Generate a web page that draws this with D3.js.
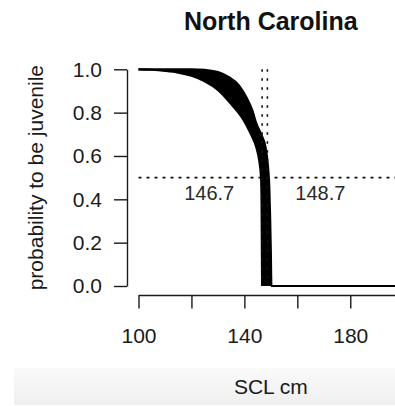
<!DOCTYPE html>
<html lang="en">
  <head>
    <meta charset="utf-8">
    <title>North Carolina</title>
    <script src="https://d3js.org/d3.v7.js"></script>
    <style>
      body { margin: 0; background: #fff; }
      * { font-family: "Liberation Sans", Arial, sans-serif; }
    </style>
  </head>
  <body>
    <script type="text/javascript">
      // chart data
      var title = "North Carolina";
      var xLabel = "SCL cm";
      var yLabel = "probability to be juvenile";

      // right (upper) edge of the band of fitted curves
      var outerScl = [100, 110, 120, 125, 130, 134, 138, 141, 143, 144.5, 146.5, 148, 149, 149.4, 149.7, 150, 150.2, 200];
      var outerP   = [1, 1, 1, 0.997, 0.987, 0.965, 0.925, 0.865, 0.81, 0.75, 0.695, 0.64, 0.54, 0.46, 0.33, 0.15, 0, 0];
      // left (lower) edge of the band
      var innerScl = [100, 105, 110, 115, 120, 125, 130, 135, 139.5, 142.5, 144.5, 145.6, 146.3, 146.5, 146.6, 146.7];
      var innerP   = [1, 0.998, 0.993, 0.985, 0.97, 0.945, 0.905, 0.84, 0.77, 0.7, 0.64, 0.58, 0.5, 0.38, 0.2, 0];

      // size at 50% probability
      var cutoffs = [146.7, 148.7];
      var cutoffLabels = ["146.7", "148.7"];
      var labelOffset = [-20, 20];
      var halfP = 0.5;
      var labelP = 0.43;

      var xTicks = [100, 120, 140, 160, 180, 200];
      var xTickLabels = ["100", "", "140", "", "180", ""];
      var yTicks = [0, 0.2, 0.4, 0.6, 0.8, 1.0];

      var w = 395;
      var h = 406;
      var margin = {top: 69.3, left: 138.5, right: 403.2, bottom: 286};

      var svg = d3.select("body")
          .append("svg")
          .attr("width", w)
          .attr("height", h);

      // light grey strip at the bottom
      var grad = svg.append("defs").append("linearGradient")
          .attr("id", "strip")
          .attr("x1", 0).attr("x2", 0).attr("y1", 0).attr("y2", 1);
      grad.append("stop").attr("offset", "0%").attr("stop-color", "#fafafa");
      grad.append("stop").attr("offset", "100%").attr("stop-color", "#efefef");
      svg.append("rect")
          .attr("x", 14).attr("y", 368)
          .attr("width", w - 14).attr("height", 37)
          .attr("fill", "url(#strip)");

      var xScale = d3.scaleLinear()
          .domain([100, 200])
          .range([margin.left, margin.right]);

      var yScale = d3.scaleLinear()
          .domain([0, 1])
          .range([margin.bottom, margin.top]);

      var line = d3.line()
          .x(d => xScale(d[0]))
          .y(d => yScale(d[1]))
          .curve(d3.curveMonotoneX);

      var outer = outerScl.map((s, i) => [s, outerP[i]]);
      var inner = innerScl.map((s, i) => [s, innerP[i]]);

      // band of curves
      var plot = svg.append("g").attr("id", "plot");

      plot.append("path")
          .attr("d", line(outer.slice(0, -1)) + "L" + line(inner.slice().reverse()).slice(1) + "Z")
          .attr("fill", "#000");

      plot.selectAll("path.edge")
          .data([outer, inner])
          .enter().append("path")
          .attr("class", "edge")
          .attr("d", line)
          .attr("fill", "none")
          .attr("stroke", "#000")
          .attr("stroke-width", 2.2);

      // dotted reference lines
      plot.append("line")
          .attr("x1", xScale(100))
          .attr("x2", xScale(200))
          .attr("y1", yScale(halfP))
          .attr("y2", yScale(halfP))
          .attr("stroke", "#111")
          .attr("stroke-width", 1.6)
          .attr("stroke-dasharray", "3,5");

      plot.selectAll("line.cut")
          .data(cutoffs)
          .enter().append("line")
          .attr("class", "cut")
          .attr("x1", d => xScale(d))
          .attr("x2", d => xScale(d))
          .attr("y1", yScale(1))
          .attr("y2", yScale(0))
          .attr("stroke", "#111")
          .attr("stroke-width", 1.6)
          .attr("stroke-dasharray", "2.5,6.5");

      plot.selectAll("text.cut")
          .data(cutoffs)
          .enter().append("text")
          .attr("class", "cut")
          .attr("x", (d, i) => xScale(d + labelOffset[i]))
          .attr("y", yScale(labelP))
          .attr("dy", "0.35em")
          .attr("text-anchor", "middle")
          .attr("font-size", 20)
          .attr("fill", "#2a2a2a")
          .text((d, i) => cutoffLabels[i]);

      // axes
      var xAxis = d3.axisBottom(xScale)
          .tickValues(xTicks)
          .tickFormat((d, i) => xTickLabels[i])
          .tickSize(13.5)
          .tickSizeOuter(0)
          .tickPadding(19.5);

      var yAxis = d3.axisLeft(yScale)
          .tickValues(yTicks)
          .tickFormat(d3.format(".1f"))
          .tickSize(13)
          .tickSizeOuter(0)
          .tickPadding(12);

      var gx = svg.append("g")
          .attr("class", "xAxis")
          .attr("transform", "translate(0, 295)")
          .call(xAxis);

      var gy = svg.append("g")
          .attr("class", "yAxis")
          .attr("transform", "translate(127, 0)")
          .call(yAxis);

      [gx, gy].forEach(function(g) {
        g.selectAll("path, line").attr("stroke", "#1a1a1a").attr("stroke-width", 1.4);
        g.selectAll("text").attr("font-size", 21).attr("fill", "#1a1a1a");
      });

      // titles
      svg.append("text")
          .attr("x", (margin.left + margin.right) / 2)
          .attr("y", 30)
          .attr("text-anchor", "middle")
          .attr("font-size", 25)
          .attr("font-weight", "bold")
          .attr("fill", "#111")
          .text(title);

      svg.append("text")
          .attr("x", (margin.left + margin.right) / 2)
          .attr("y", 394)
          .attr("text-anchor", "middle")
          .attr("font-size", 21)
          .attr("fill", "#1a1a1a")
          .text(xLabel);

      svg.append("text")
          .attr("transform", "translate(43, " + (margin.top + margin.bottom) / 2 + ") rotate(-90)")
          .attr("text-anchor", "middle")
          .attr("font-size", 21)
          .attr("fill", "#1a1a1a")
          .text(yLabel);
    </script>
  </body>
</html>
